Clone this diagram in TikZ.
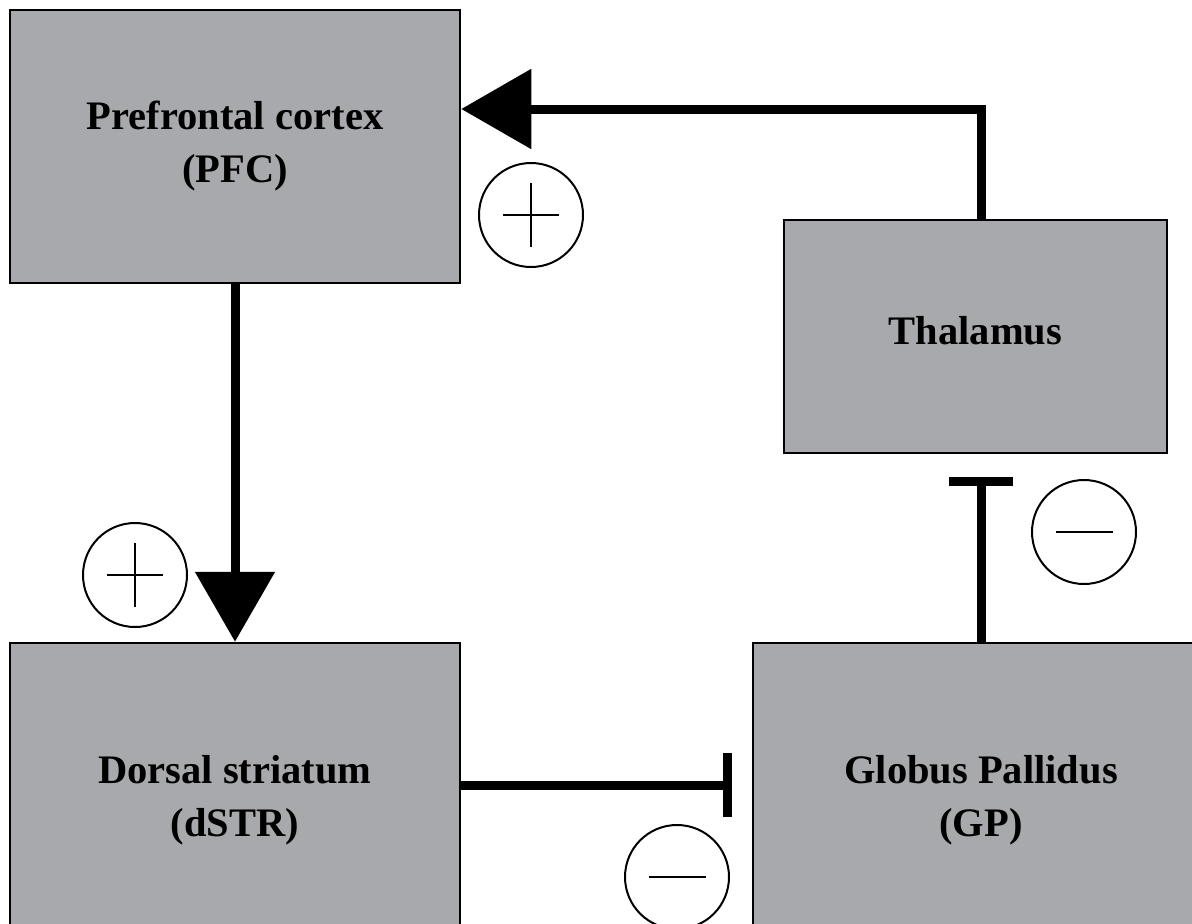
\documentclass[tikz,border=0pt]{standalone}
\usepackage{fontspec}
\setmainfont{Liberation Serif}
\usetikzlibrary{arrows.meta,calc}
\definecolor{boxgray}{HTML}{A8A9AD}
\begin{document}
\begin{tikzpicture}[x=1pt,y=-1pt,
  region/.style={draw=black,line width=2.5pt,fill=boxgray,rectangle,inner sep=0pt,align=center,
    font=\fontsize{40.5}{53}\selectfont\bfseries},
  excite/.style={line width=9pt,-{Triangle[width=78pt,length=70pt]}},
  inhibit/.style={line width=9pt,-{Bar[width=64pt]}},
  sign/.style={circle,draw=black,line width=2pt,minimum size=104pt,inner sep=0pt,fill=white},
  plussign/.style={sign,path picture={
    \draw[line width=1.6pt] ($(path picture bounding box.center)+(-28,0)$) -- ++(56,0)
      ($(path picture bounding box.center)+(0,-32)$) -- ++(0,64);}},
  minussign/.style={sign,path picture={
    \draw[line width=1.6pt] ($(path picture bounding box.center)+(-28.5,0)$) -- ++(57,0);}}
]
\useasboundingbox (0,0) rectangle (1192,924);
\fill[white] (0,0) rectangle (1192,924);

\node[region,minimum width=450pt,minimum height=273pt] (pfc) at (235,146.5) {Prefrontal cortex\\(PFC)};
\node[region,minimum width=383pt,minimum height=233pt] (thal) at (975.5,336.5) {\raisebox{12pt}{Thalamus}};
\node[region,minimum width=450pt,minimum height=314pt] (dstr) at (235,800) {Dorsal striatum\\(dSTR)};
\node[region,minimum width=456pt,minimum height=314pt] (gp) at (981,800) {Globus Pallidus\\(GP)};

\coordinate (barA) at (732,785);
\coordinate (barB) at (981,477);

\draw[excite] (pfc.south) -- (dstr.north);
\draw[excite] ([xshift=5.5pt]thal.north) |- ([yshift=37.5pt]pfc.east);
\draw[inhibit] (dstr.east |- barA) -- (barA);
\draw[inhibit] (gp.north) -- (barB);

\node[plussign] (s1) at (531,215) {};
\node[plussign] (s2) at (135,575) {};
\node[minussign] (s3) at (1084,532) {};
\node[minussign] (s4) at (677,877) {};
\end{tikzpicture}
\end{document}
